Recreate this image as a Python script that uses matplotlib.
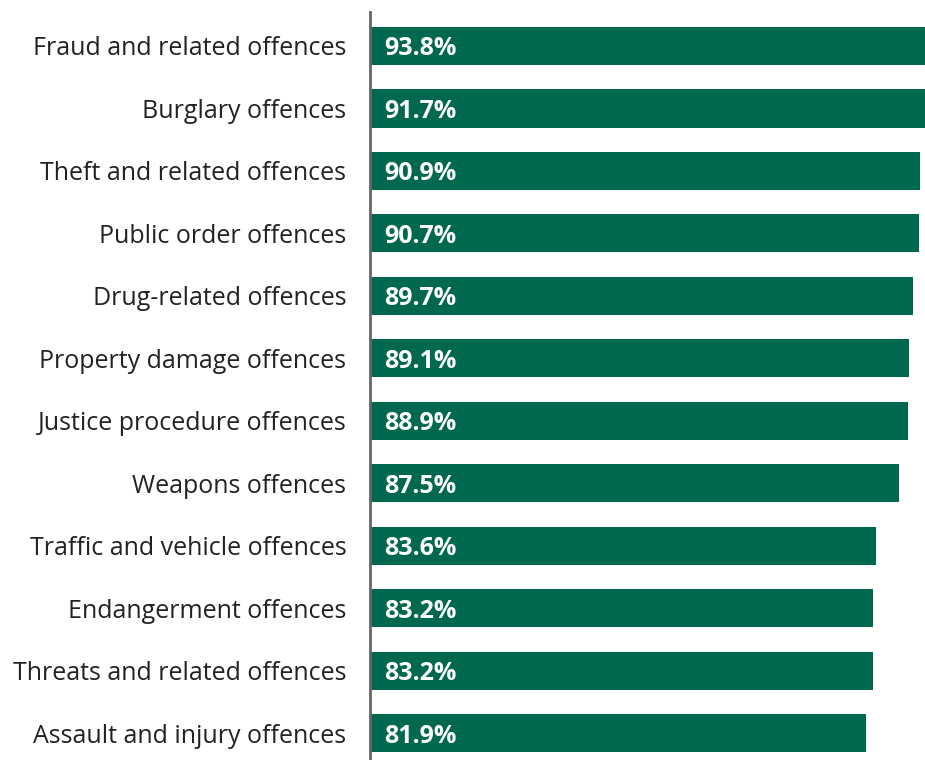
import matplotlib
matplotlib.use("Agg")
import matplotlib.pyplot as plt

categories = [
    "Fraud and related offences",
    "Burglary offences",
    "Theft and related offences",
    "Public order offences",
    "Drug-related offences",
    "Property damage offences",
    "Justice procedure offences",
    "Weapons offences",
    "Traffic and vehicle offences",
    "Endangerment offences",
    "Threats and related offences",
    "Assault and injury offences",
]
values = [93.8, 91.7, 90.9, 90.7, 89.7, 89.1, 88.9, 87.5, 83.6, 83.2, 83.2, 81.9]
value_labels = ["93.8%", "91.7%", "90.9%", "90.7%", "89.7%", "89.1%",
                "88.9%", "87.5%", "83.6%", "83.2%", "83.2%", "81.9%"]

plt.rcParams["font.family"] = ["Open Sans", "DejaVu Sans"]

W, H = 925, 760
fig = plt.figure(figsize=(W / 100, H / 100), dpi=100)
ax = fig.add_axes([370 / W, 0.0, 1 - 370 / W, (H - 12) / H])

green = "#00684F"
ypos = list(range(len(categories)))
ax.barh(ypos, values, height=0.61, color=green, left=0)

ax.set_xlim(0, 91.73)
ax.set_ylim(11.43, -0.544)

for s in ["top", "right", "bottom"]:
    ax.spines[s].set_visible(False)
ax.spines["left"].set_color("#666666")
ax.spines["left"].set_linewidth(2)
ax.spines["left"].set_zorder(5)

ax.set_xticks([])
ax.set_yticks(ypos)
ax.set_yticklabels(categories, fontsize=18, color="#222222")
ax.tick_params(axis="y", length=0, pad=17)

for y, lab in zip(ypos, value_labels):
    ax.annotate(lab, xy=(0, y), xytext=(10, 0), textcoords="offset points",
                va="center_baseline", ha="left", color="white", fontsize=18,
                fontweight="bold", annotation_clip=False)

fig.savefig("out.png", dpi=100)
